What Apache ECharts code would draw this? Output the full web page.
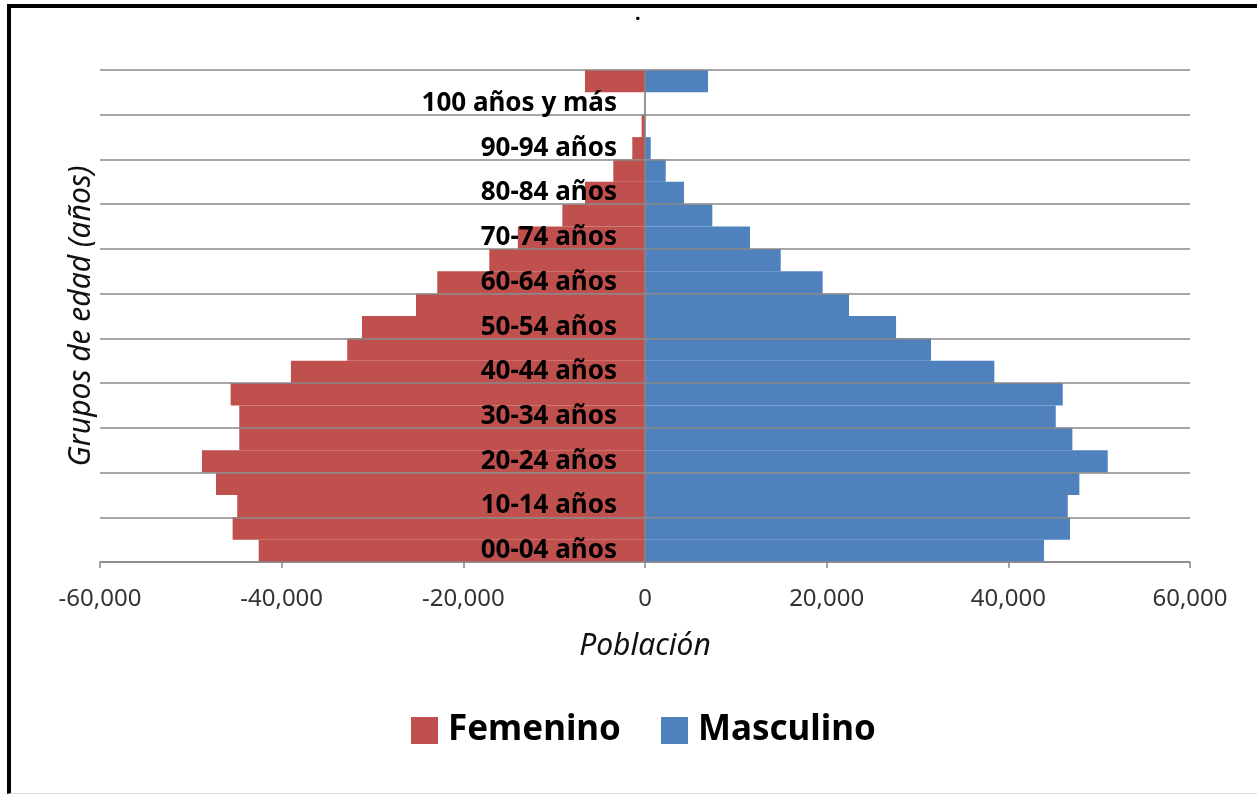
<!DOCTYPE html>
<html>
<head>
<meta charset="utf-8">
<script src="https://cdn.jsdelivr.net/npm/echarts@6/dist/echarts.min.js"></script>
<style>
html,body{margin:0;padding:0;background:#fff;}
#chart{position:absolute;left:0;top:0;width:1257px;height:794px;}
#frame{position:absolute;left:7px;top:4px;right:0;bottom:0;border-left:4px solid #000;border-top:4px solid #000;border-bottom:1px solid #ddd;pointer-events:none;}
</style>
</head>
<body>
<div id="chart"></div>
<div id="frame"></div>
<script>
// Age groups, bottom to top
const categories = [
  "00-04 años","05-09 años","10-14 años","15-19 años","20-24 años",
  "25-29 años","30-34 años","35-39 años","40-44 años","45-49 años",
  "50-54 años","55-59 años","60-64 años","65-69 años","70-74 años",
  "75-79 años","80-84 años","85-89 años","90-94 años","95-99 años",
  "100 años y más","No especificado"
];
// Female population (negative to plot on the left)
const femenino = [
  -42530,-45400,-44890,-47230,-48780,
  -44670,-44670,-45620,-38980,-32780,
  -31160,-25210,-22870,-17140,-14000,
  -9100,-6610,-3490,-1400,-370,
  -60,-6610
];
// Male population
const masculino = [
  43930,46790,46540,47820,50940,
  47050,45220,45990,38460,31490,
  27640,22460,19560,14940,11560,
  7410,4290,2280,630,60,
  40,6940
];
// Population axis tick values
const xTickValues = [-60000,-40000,-20000,0,20000,40000,60000];

const chart = echarts.init(document.getElementById('chart'));
const FONT = 'Noto Sans';
const GRID_COLOR = '#888888';
const GRID = {left: 100, right: 67, top: 70, bottom: 232};
const plotWidth = 1257 - GRID.left - GRID.right;
const xMin = xTickValues[0], xMax = xTickValues[xTickValues.length - 1];
// shift the category axis so it sits on the zero of the value axis
const zeroOffset = -plotWidth * (0 - xMin) / (xMax - xMin);

const option = {
  animation: false,
  backgroundColor: '#ffffff',
  title: {
    text: '.',
    left: 630,
    top: -1,
    textStyle: {fontSize: 20, fontWeight: 'bold', color: '#000', fontFamily: FONT}
  },
  legend: {
    data: ['Femenino', 'Masculino'],
    left: 411,
    top: 713,
    padding: 0,
    icon: 'rect',
    itemWidth: 27,
    itemHeight: 27,
    itemGap: 40,
    textStyle: {fontSize: 35, fontWeight: 'bold', color: '#000', fontFamily: FONT, padding: [0, 0, 0, 5]}
  },
  grid: Object.assign({outerBoundsMode: 'none'}, GRID),
  xAxis: {
    type: 'value',
    min: xMin,
    max: xMax,
    interval: xTickValues[1] - xTickValues[0],
    axisLine: {show: true, onZero: false, lineStyle: {color: GRID_COLOR, width: 1.5}},
    axisTick: {show: true, length: 6, lineStyle: {color: GRID_COLOR, width: 1.5}},
    splitLine: {show: false},
    axisLabel: {
      margin: 25, fontSize: 24, color: '#333', fontFamily: FONT,
      formatter: v => v.toLocaleString('en-US')
    },
    name: 'Población',
    nameLocation: 'middle',
    nameGap: 69,
    nameTextStyle: {fontStyle: 'italic', fontSize: 30, color: '#111', fontFamily: FONT}
  },
  yAxis: {
    type: 'category',
    data: categories,
    z: 5,
    offset: zeroOffset,
    axisLine: {show: true, onZero: false, lineStyle: {color: GRID_COLOR, width: 1.5}},
    axisTick: {show: false},
    axisLabel: {interval: 1, margin: 28, fontSize: 26, fontWeight: 'bold', color: '#000', fontFamily: FONT},
    splitLine: {show: true, interval: 1, lineStyle: {color: GRID_COLOR, width: 1.5}},
    name: 'Grupos de edad (años)',
    nameLocation: 'middle',
    nameGap: 549,
    nameRotate: 90,
    nameTextStyle: {fontStyle: 'italic', fontSize: 30, color: '#111', fontFamily: FONT}
  },
  series: [
    {
      name: 'Femenino', type: 'bar', stack: 'pop', data: femenino,
      barCategoryGap: '0%', itemStyle: {color: '#C0504D'}
    },
    {
      name: 'Masculino', type: 'bar', stack: 'pop', data: masculino,
      barCategoryGap: '0%', itemStyle: {color: '#4F81BD'}
    }
  ]
};
chart.setOption(option);
</script>
</body>
</html>
